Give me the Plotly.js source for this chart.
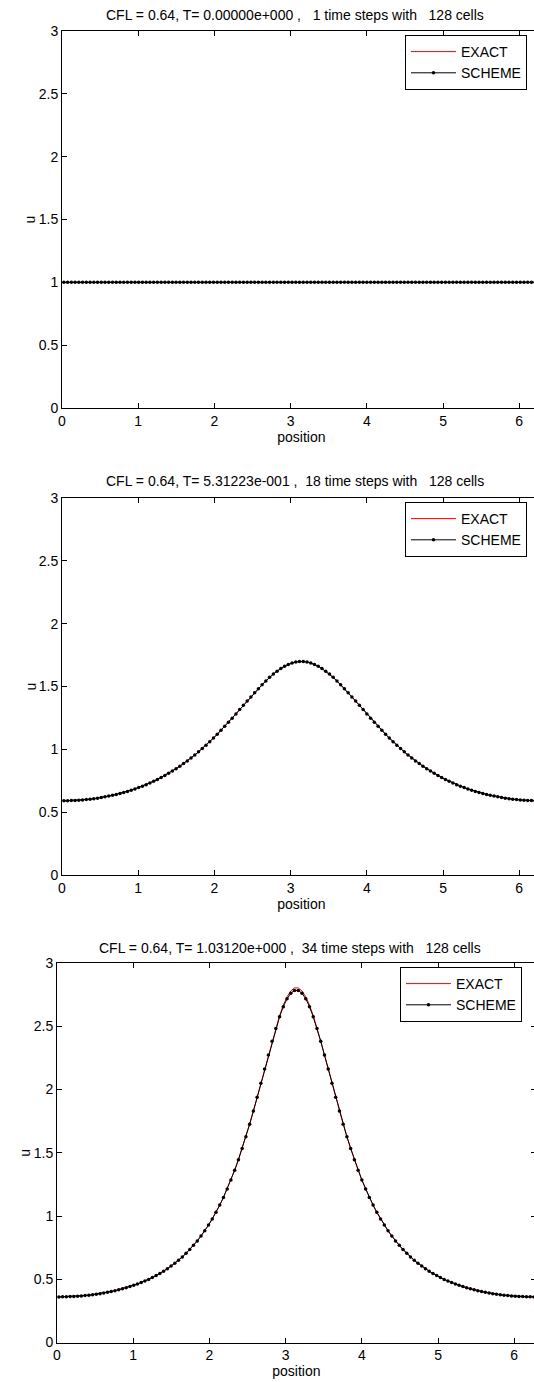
<!DOCTYPE html>
<html>
<head>
<meta charset="utf-8">
<script src="https://cdn.plot.ly/plotly-3.0.1.min.js"></script>
<style>
html,body{margin:0;padding:0;overflow:hidden;background:#fff;}
#chart{width:545px;height:1382px;}
</style>
</head>
<body>
<div id="chart"></div>
<script>
// ---- data ----
const cellCount = 128;
const domainLength = 2 * Math.PI;
const xTickVals = [0, 1, 2, 3, 4, 5, 6];
const xTickText = ['0', '1', '2', '3', '4', '5', '6'];
const yTickVals = [0, 0.5, 1, 1.5, 2, 2.5, 3];
const yTickText = ['0', '0.5', '1', '1.5', '2', '2.5', '3'];
const xLabel = 'position';
const yLabel = 'u';

const titles = [
  'CFL = 0.64, T= 0.00000e+000 ,\u00a0\u00a0 1 time steps with\u00a0\u00a0 128 cells',
  'CFL = 0.64, T= 5.31223e-001 ,\u00a0 18 time steps with\u00a0\u00a0 128 cells',
  'CFL = 0.64, T= 1.03120e+000 ,\u00a0 34 time steps with\u00a0\u00a0 128 cells'
];
const seriesNames = ['EXACT', 'SCHEME'];

// panel 1 (T = 0): u = 1 everywhere
const exact1 = [
1,1,1,1,1,1,1,1,1,1,1,1,1,1,1,1,1,1,1,1,1,1,1,1,1,1,1,1,1,1,1,1,
1,1,1,1,1,1,1,1,1,1,1,1,1,1,1,1,1,1,1,1,1,1,1,1,1,1,1,1,1,1,1,1,
1,1,1,1,1,1,1,1,1,1,1,1,1,1,1,1,1,1,1,1,1,1,1,1,1,1,1,1,1,1,1,1,
1,1,1,1,1,1,1,1,1,1,1,1,1,1,1,1,1,1,1,1,1,1,1,1,1,1,1,1,1,1,1,1];
const scheme1 = [
1,1,1,1,1,1,1,1,1,1,1,1,1,1,1,1,1,1,1,1,1,1,1,1,1,1,1,1,1,1,1,1,
1,1,1,1,1,1,1,1,1,1,1,1,1,1,1,1,1,1,1,1,1,1,1,1,1,1,1,1,1,1,1,1,
1,1,1,1,1,1,1,1,1,1,1,1,1,1,1,1,1,1,1,1,1,1,1,1,1,1,1,1,1,1,1,1,
1,1,1,1,1,1,1,1,1,1,1,1,1,1,1,1,1,1,1,1,1,1,1,1,1,1,1,1,1,1,1,1];

// panel 2 (T = 0.531)
const exact2 = [
0.590,0.591,0.592,0.593,0.595,0.597,0.600,0.603,0.607,0.611,
0.616,0.622,0.628,0.634,0.641,0.649,0.657,0.665,0.675,0.685,
0.696,0.707,0.719,0.732,0.746,0.760,0.776,0.792,0.809,0.827,
0.846,0.866,0.887,0.908,0.931,0.955,0.980,1.006,1.033,1.061,
1.090,1.120,1.151,1.183,1.215,1.248,1.282,1.316,1.350,1.384,
1.417,1.451,1.483,1.514,1.544,1.573,1.599,1.622,1.643,1.661,
1.676,1.687,1.695,1.700,
1.700,1.695,1.687,1.676,1.661,1.643,1.622,1.599,1.573,1.544,
1.514,1.483,1.451,1.417,1.384,1.350,1.316,1.282,1.248,1.215,
1.183,1.151,1.120,1.090,1.061,1.033,1.006,0.980,0.955,0.931,
0.908,0.887,0.866,0.846,0.827,0.809,0.792,0.776,0.760,0.746,
0.732,0.719,0.707,0.696,0.685,0.675,0.665,0.657,0.649,0.641,
0.634,0.628,0.622,0.616,0.611,0.607,0.603,0.600,0.597,0.595,
0.593,0.592,0.591,0.590];
const scheme2 = [
0.590,0.591,0.592,0.593,0.595,0.597,0.600,0.603,0.607,0.611,
0.616,0.622,0.628,0.634,0.641,0.649,0.657,0.665,0.675,0.685,
0.696,0.707,0.719,0.732,0.746,0.760,0.776,0.792,0.809,0.827,
0.846,0.866,0.887,0.908,0.931,0.955,0.980,1.006,1.033,1.061,
1.090,1.120,1.151,1.183,1.215,1.248,1.282,1.316,1.350,1.384,
1.417,1.451,1.483,1.514,1.544,1.573,1.599,1.622,1.643,1.661,
1.676,1.687,1.695,1.699,
1.699,1.695,1.687,1.676,1.661,1.643,1.622,1.599,1.573,1.544,
1.514,1.483,1.451,1.417,1.384,1.350,1.316,1.282,1.248,1.215,
1.183,1.151,1.120,1.090,1.061,1.033,1.006,0.980,0.955,0.931,
0.908,0.887,0.866,0.846,0.827,0.809,0.792,0.776,0.760,0.746,
0.732,0.719,0.707,0.696,0.685,0.675,0.665,0.657,0.649,0.641,
0.634,0.628,0.622,0.616,0.611,0.607,0.603,0.600,0.597,0.595,
0.593,0.592,0.591,0.590];

// panel 3 (T = 1.031)
const exact3 = [
0.360,0.361,0.361,0.363,0.364,0.366,0.368,0.371,0.374,0.378,
0.382,0.386,0.391,0.397,0.403,0.409,0.417,0.424,0.433,0.442,
0.452,0.462,0.474,0.486,0.499,0.514,0.529,0.546,0.564,0.583,
0.604,0.626,0.650,0.676,0.705,0.735,0.768,0.803,0.842,0.883,
0.928,0.977,1.029,1.086,1.147,1.214,1.285,1.362,1.445,1.533,
1.627,1.726,1.830,1.938,2.049,2.162,2.274,2.384,2.488,2.584,
2.667,2.733,2.779,2.803,
2.803,2.779,2.733,2.667,2.584,2.488,2.384,2.274,2.162,2.049,
1.938,1.830,1.726,1.627,1.533,1.445,1.362,1.285,1.214,1.147,
1.086,1.029,0.977,0.928,0.883,0.842,0.803,0.768,0.735,0.705,
0.676,0.650,0.626,0.604,0.583,0.564,0.546,0.529,0.514,0.499,
0.486,0.474,0.462,0.452,0.442,0.433,0.424,0.417,0.409,0.403,
0.397,0.391,0.386,0.382,0.378,0.374,0.371,0.368,0.366,0.364,
0.363,0.361,0.361,0.360];
const scheme3 = [
0.360,0.361,0.361,0.363,0.364,0.366,0.368,0.371,0.374,0.378,
0.382,0.386,0.391,0.397,0.403,0.409,0.417,0.424,0.433,0.442,
0.452,0.462,0.474,0.486,0.499,0.514,0.529,0.546,0.564,0.583,
0.604,0.626,0.650,0.676,0.705,0.735,0.768,0.803,0.842,0.883,
0.928,0.977,1.029,1.086,1.147,1.214,1.285,1.362,1.445,1.533,
1.627,1.726,1.830,1.938,2.049,2.162,2.273,2.381,2.483,2.575,
2.655,2.717,2.761,2.783,
2.783,2.761,2.717,2.655,2.575,2.483,2.381,2.273,2.162,2.049,
1.938,1.830,1.726,1.627,1.533,1.445,1.362,1.285,1.214,1.147,
1.086,1.029,0.977,0.928,0.883,0.842,0.803,0.768,0.735,0.705,
0.676,0.650,0.626,0.604,0.583,0.564,0.546,0.529,0.514,0.499,
0.486,0.474,0.462,0.452,0.442,0.433,0.424,0.417,0.409,0.403,
0.397,0.391,0.386,0.382,0.378,0.374,0.371,0.368,0.366,0.364,
0.363,0.361,0.361,0.360];

// ---- build ----
const W = 545, H = 1382;
const dx = domainLength / cellCount;
const FONT = 'Liberation Sans, Arial, Helvetica, sans-serif';
const FS = 14;

// pixel geometry of each axes box: [left, right, top, bottom]
const boxes = [
  [62, 540.8, 31, 408],
  [62, 540.8, 498, 875],
  [57, 535.8, 963, 1342.5]
];
const legendPos = [
  [527, 35],
  [527, 502],
  [522, 967]
];
const exacts = [exact1, exact2, exact3];
const schemes = [scheme1, scheme2, scheme3];

const traces = [];
const layout = {
  width: W, height: H,
  margin: {l: 0, r: 0, t: 0, b: 0},
  paper_bgcolor: '#fff', plot_bgcolor: '#fff',
  font: {family: FONT, size: FS, color: '#000'},
  showlegend: true,
  annotations: []
};

for (let k = 0; k < 3; k++) {
  const sfx = k === 0 ? '' : String(k + 1);
  const xa = 'x' + sfx, ya = 'y' + sfx;
  const lg = 'legend' + sfx;
  const b = boxes[k];
  traces.push({
    type: 'scatter', mode: 'lines', name: seriesNames[0],
    x0: dx / 2, dx: dx, y: exacts[k],
    xaxis: xa, yaxis: ya, legend: lg,
    line: {color: '#ff0000', width: 1}
  });
  traces.push({
    type: 'scatter', mode: 'lines+markers', name: seriesNames[1],
    x0: dx / 2, dx: dx, y: schemes[k],
    xaxis: xa, yaxis: ya, legend: lg,
    line: {color: '#000', width: 1},
    marker: {color: '#000', size: 3.5}
  });
  const axCommon = {
    showline: true, linecolor: '#000', linewidth: 1, mirror: 'ticks',
    ticks: 'inside', ticklen: 5, tickwidth: 1, tickcolor: '#000',
    showgrid: false, zeroline: false, fixedrange: true,
    tickfont: {family: FONT, size: FS, color: '#000'}
  };
  layout['xaxis' + sfx] = Object.assign({}, axCommon, {
    domain: [b[0] / W, b[1] / W], anchor: ya,
    range: [0, domainLength],
    tickmode: 'array', tickvals: xTickVals, ticktext: xTickText,
    title: {text: xLabel, font: {family: FONT, size: FS, color: '#000'}, standoff: 2}
  });
  layout['yaxis' + sfx] = Object.assign({}, axCommon, {
    domain: [(H - b[3]) / H, (H - b[2]) / H], anchor: xa,
    range: [0, 3],
    tickmode: 'array', tickvals: yTickVals, ticktext: yTickText
  });
  layout[lg] = {
    x: legendPos[k][0] / W, xanchor: 'right',
    y: (H - legendPos[k][1]) / H, yanchor: 'top',
    xref: 'paper', yref: 'paper',
    bgcolor: '#fff', bordercolor: '#000', borderwidth: 1,
    font: {family: FONT, size: FS, color: '#000'},
    itemwidth: 45, tracegroupgap: 0
  };
  const titleY = [15, 481, 948][k];
  layout.annotations.push({
    text: titles[k], xref: 'paper', yref: 'paper',
    x: (b[0] + b[1]) / 2 / W - 6 / W, y: (H - titleY) / H,
    xanchor: 'center', yanchor: 'middle', showarrow: false,
    font: {family: FONT, size: FS, color: '#000'}
  });
  // y-axis label, rotated like the original
  layout.annotations.push({
    text: yLabel, xref: 'paper', yref: 'paper',
    x: (b[0] - 32) / W, y: (H - (b[2] + b[3]) / 2) / H,
    xanchor: 'center', yanchor: 'middle', showarrow: false, textangle: -90,
    font: {family: FONT, size: FS, color: '#000'}
  });
}

Plotly.newPlot('chart', traces, layout, {staticPlot: true, displayModeBar: false});
</script>
</body>
</html>
